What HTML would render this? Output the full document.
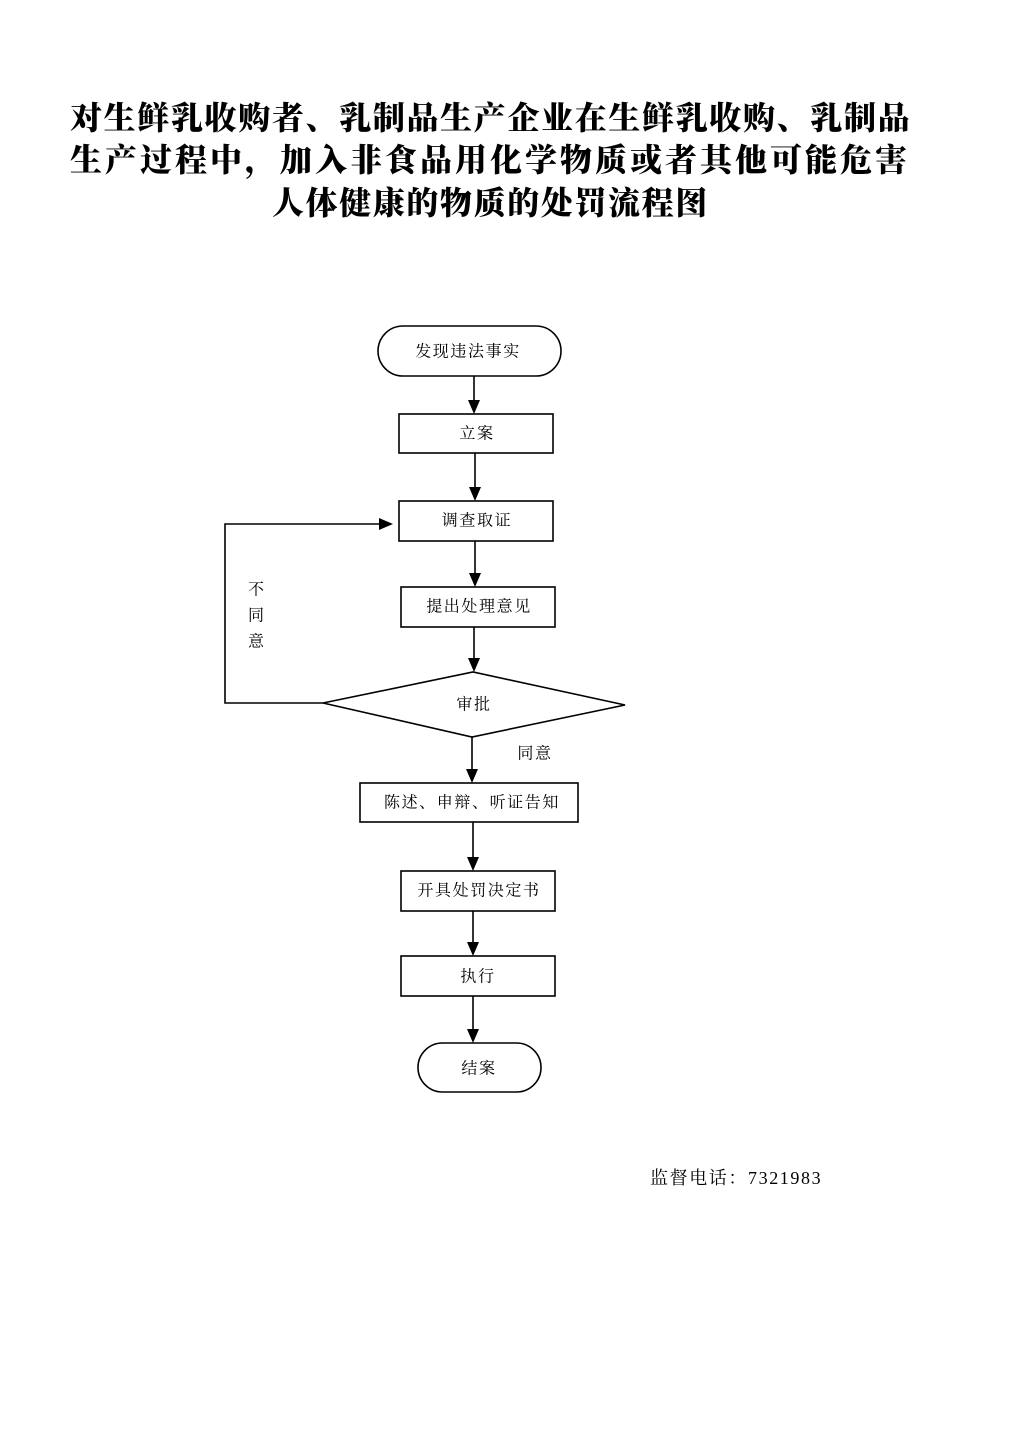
<!DOCTYPE html>
<html>
<head>
<meta charset="utf-8">
<style>
  html, body { margin:0; padding:0; background:#fff; }
  body { width:1024px; height:1448px; position:relative; overflow:hidden; }
  .t { position:absolute; white-space:nowrap; font-family:"Liberation Serif","Noto Serif CJK SC",serif; font-weight:900; font-size:32px; line-height:32px; color:#000; }
  svg { position:absolute; left:0; top:0; }
</style>
</head>
<body>
<div class="t" style="left:70px; top:102px; letter-spacing:1.65px;">对生鲜乳收购者、乳制品生产企业在生鲜乳收购、乳制品</div>
<div class="t" style="left:70px; top:144px; letter-spacing:3.0px;">生产过程中，加入非食品用化学物质或者其他可能危害</div>
<div class="t" style="left:272px; top:187px; letter-spacing:1.6px;">人体健康的物质的处罚流程图</div>

<svg width="1024" height="1448" viewBox="0 0 1024 1448" xmlns="http://www.w3.org/2000/svg">
  <g fill="none" stroke="#000" stroke-width="1.6">
    <rect x="378" y="326" width="183" height="50" rx="25" ry="25"/>
    <rect x="399" y="414" width="154" height="39"/>
    <rect x="399" y="501" width="154" height="40"/>
    <rect x="401" y="587" width="154" height="40"/>
    <polygon points="323,703 473,672 625,705 472,737"/>
    <rect x="360" y="783" width="218" height="39"/>
    <rect x="401" y="871" width="154" height="40"/>
    <rect x="401" y="956" width="154" height="40"/>
    <rect x="418" y="1043" width="123" height="49" rx="24.5" ry="24.5"/>
    <!-- connectors -->
    <line x1="474" y1="376" x2="474" y2="402"/>
    <line x1="475" y1="453" x2="475" y2="489"/>
    <line x1="475" y1="541" x2="475" y2="575"/>
    <line x1="474" y1="627" x2="474" y2="660"/>
    <line x1="472" y1="737" x2="472" y2="771"/>
    <line x1="473" y1="822" x2="473" y2="859"/>
    <line x1="473" y1="911" x2="473" y2="944"/>
    <line x1="473" y1="996" x2="473" y2="1031"/>
    <polyline points="323,703 225,703 225,524 381,524"/>
  </g>
  <g fill="#000" stroke="none">
    <polygon points="468,400 480,400 474,414"/>
    <polygon points="469,487 481,487 475,501"/>
    <polygon points="469,573 481,573 475,587"/>
    <polygon points="468,658 480,658 474,672"/>
    <polygon points="466,769 478,769 472,783"/>
    <polygon points="467,857 479,857 473,871"/>
    <polygon points="467,942 479,942 473,956"/>
    <polygon points="467,1029 479,1029 473,1043"/>
    <polygon points="379,518 379,530 393,524"/>
  </g>
  <g font-family="Liberation Serif, Noto Serif CJK SC, serif" font-size="16" fill="#000" text-anchor="middle" dominant-baseline="central" letter-spacing="1.6">
    <text x="468" y="352">发现违法事实</text>
    <text x="477" y="434">立案</text>
    <text x="477" y="521">调查取证</text>
    <text x="479" y="607">提出处理意见</text>
    <text x="474" y="705">审批</text>
    <text x="535" y="754">同意</text>
    <text x="472" y="803">陈述、申辩、听证告知</text>
    <text x="479" y="891">开具处罚决定书</text>
    <text x="478" y="977">执行</text>
    <text x="479" y="1069">结案</text>
    <text x="256" y="590" letter-spacing="0">不</text>
    <text x="256" y="616" letter-spacing="0">同</text>
    <text x="256" y="642" letter-spacing="0">意</text>
  </g>
  <text x="650" y="1178" font-family="Liberation Serif, Noto Serif CJK SC, serif" font-size="18" fill="#000" dominant-baseline="central" letter-spacing="1.6">监督电话：7321983</text>
</svg>
</body>
</html>
